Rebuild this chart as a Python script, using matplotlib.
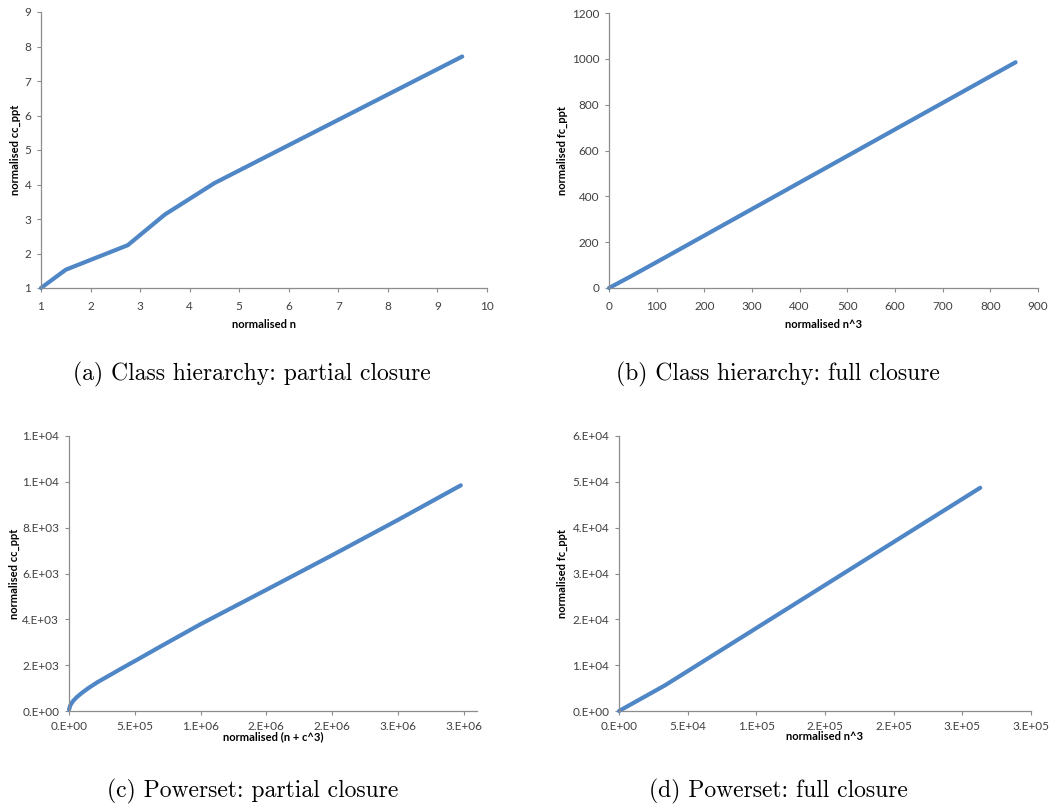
import numpy as np
import matplotlib
matplotlib.use("Agg")
import matplotlib.pyplot as plt
from matplotlib.ticker import FuncFormatter

# data
a_x = [1, 1.5, 2.75, 3.5, 4.5, 9.5]
a_y = [1, 1.53, 2.24, 3.13, 4.04, 7.71]

b_x = [0, 45, 100, 853]
b_y = [0, 50, 113, 985]

c_x = [0, 1e4, 3e4, 6e4, 1e5, 1.5e5, 2.2e5, 3e5, 4e5, 5e5, 7e5, 1e6,
       1.5e6, 2e6, 2.5e6, 2.977e6]
c_y = [60, 250, 430, 610, 800, 1010, 1270, 1530, 1860, 2180, 2830, 3790,
       5290, 6800, 8340, 9847]

d_x = [0, 33500, 263000]
d_y = [0, 5600, 48700]

captions = ["(a) Class hierarchy: partial closure",
            "(b) Class hierarchy: full closure",
            "(c) Powerset: partial closure",
            "(d) Powerset: full closure"]
xlabels = ["normalised n", "normalised n^3", "normalised (n + c^3)", "normalised n^3"]
ylabels = ["normalised cc_ppt", "normalised fc_ppt", "normalised cc_ppt", "normalised fc_ppt"]

W, H = 1051, 811
line_col = "#4F86C6"
axis_col = "#8C8C8C"
text_col = "#404040"
tick_font = "Lato"


def excel_sci(v, pos=None):
    # mimic Excel "0.E+00" number format (round half up)
    if v == 0:
        return "0.E+00"
    e = int(np.floor(np.log10(abs(v))))
    m = int(abs(v) / 10 ** e + 0.5)
    if m == 10:
        m = 1
        e += 1
    return f"{m}.E{e:+03d}"


fig = plt.figure(figsize=(W / 100, H / 100), dpi=100)

# axes boxes in pixels: left, right, top, bottom
boxes = [(41, 487, 12, 288), (609, 1038, 13, 288),
         (69, 477, 436, 711), (619, 1031, 436, 711)]
series = [(a_x, a_y), (b_x, b_y), (c_x, c_y), (d_x, d_y)]
xlims = [(1, 10), (0, 900), (0, 3.1e6), (0, 3e5)]
ylims = [(1, 9), (0, 1200), (0, 12000), (0, 6e4)]
xticks = [np.arange(1, 11), np.arange(0, 901, 100),
          np.arange(0, 3.01e6, 5e5), np.arange(0, 3.01e5, 5e4)]
yticks = [np.arange(1, 10), np.arange(0, 1201, 200),
          np.arange(0, 12001, 2000), np.arange(0, 6.01e4, 1e4)]
xlab_y = [324, 324, 737, 737]      # pixel centre of x label
ylab_x = [15, 562, 14, 562]        # pixel centre of y label
xtick_pad = [6, 6, 4.5, 4.5]

for i in range(4):
    l, r, t, b = boxes[i]
    ax = fig.add_axes([l / W, 1 - b / H, (r - l) / W, (b - t) / H])
    xs, ys = series[i]
    ax.plot(xs, ys, color=line_col, lw=3, solid_capstyle="round",
            solid_joinstyle="round", clip_on=False)
    ax.set_xlim(*xlims[i])
    ax.set_ylim(*ylims[i])
    ax.set_xticks(xticks[i])
    ax.set_yticks(yticks[i])
    if i >= 2:
        ax.xaxis.set_major_formatter(FuncFormatter(excel_sci))
        ax.yaxis.set_major_formatter(FuncFormatter(excel_sci))
    for s in ["top", "right"]:
        ax.spines[s].set_visible(False)
    for s in ["left", "bottom"]:
        ax.spines[s].set_color(axis_col)
        ax.spines[s].set_linewidth(0.9)
    ax.tick_params(direction="out", length=3, width=0.8, color=axis_col,
                   labelcolor=text_col, labelsize=8.5)
    ax.tick_params(axis="x", pad=xtick_pad[i])
    ax.tick_params(axis="y", pad=4)
    for lab in ax.get_xticklabels() + ax.get_yticklabels():
        lab.set_fontfamily(tick_font)
    ax.set_xlabel(xlabels[i], fontsize=8, fontweight="bold",
                  fontfamily=tick_font, va="center")
    ax.set_ylabel(ylabels[i], fontsize=8, fontweight="bold",
                  fontfamily=tick_font, va="center")
    ax.xaxis.set_label_coords(0.5, -(xlab_y[i] - b) / (b - t))
    ax.yaxis.set_label_coords(-(l - ylab_x[i]) / (r - l), 0.5)

cap_pos = [(252, 380), (778, 380), (253, 797), (778, 797)]
for (cx, cy), cap in zip(cap_pos, captions):
    fig.text(cx / W, 1 - cy / H, cap, ha="center", va="baseline",
             fontsize=17, fontfamily="cmr10")

fig.savefig("out.png", dpi=100)
